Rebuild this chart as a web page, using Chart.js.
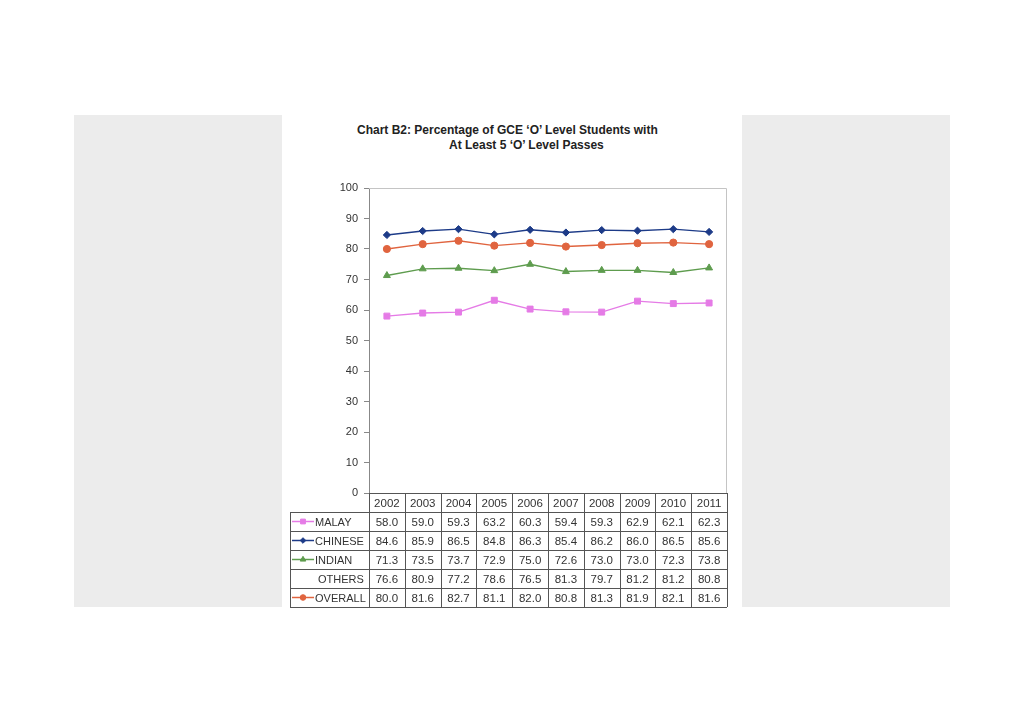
<!DOCTYPE html>
<html>
<head>
<meta charset="utf-8">
<script src="https://cdn.jsdelivr.net/npm/chart.js@4"></script>
<style>
  html, body { margin: 0; padding: 0; background: #fff; }
  body { width: 1024px; height: 724px; position: relative; overflow: hidden; font-family: "Liberation Sans", Arial, sans-serif; }
  .panel { position: absolute; top: 115px; height: 492px; width: 208px; background: #ececec; }
  .title { position: absolute; font-weight: bold; font-size: 12px; color: #222; white-space: nowrap; }
  #wrap { position: absolute; left: 282px; top: 170px; width: 460px; height: 450px; }
</style>
</head>
<body>
<div class="panel" style="left:74px"></div>
<div class="panel" style="left:742px"></div>
<div class="title" style="left:357px; top:123px">Chart B2: Percentage of GCE ‘O’ Level Students with</div>
<div class="title" style="left:449px; top:138px">At Least 5 ‘O’ Level Passes</div>
<div id="wrap"><canvas id="chart"></canvas></div>
<script>
// Data
const years = ['2002', '2003', '2004', '2005', '2006', '2007', '2008', '2009', '2010', '2011'];
const malay = [58.0, 59.0, 59.3, 63.2, 60.3, 59.4, 59.3, 62.9, 62.1, 62.3];
const chinese = [84.6, 85.9, 86.5, 84.8, 86.3, 85.4, 86.2, 86.0, 86.5, 85.6];
const indian = [71.3, 73.5, 73.7, 72.9, 75.0, 72.6, 73.0, 73.0, 72.3, 73.8];
const others = [76.6, 80.9, 77.2, 78.6, 76.5, 81.3, 79.7, 81.2, 81.2, 80.8];
const overall = [80.0, 81.6, 82.7, 81.1, 82.0, 80.8, 81.3, 81.9, 82.1, 81.6];

const FONT = '"Liberation Sans", Arial, sans-serif';

// Series styles (OTHERS is only shown in the table)
const series = [
  { label: 'MALAY', data: malay, color: '#e57be6', style: 'rect', radius: 4.2, hidden: false },
  { label: 'CHINESE', data: chinese, color: '#1d3b88', style: 'rectRot', radius: 3.6, hidden: false },
  { label: 'INDIAN', data: indian, color: '#5e9c4e', style: 'triangle', radius: 4, hidden: false },
  { label: 'OTHERS', data: others, color: '#888', style: false, radius: 0, hidden: true },
  { label: 'OVERALL', data: overall, color: '#e0643f', style: 'circle', radius: 3.6, hidden: false }
];

// Data table drawn under the plot, columns from the x scale
const dataTable = {
  id: 'dataTable',
  afterDraw(chart) {
    const ctx = chart.ctx;
    const area = chart.chartArea;
    const x = chart.scales.x;
    const colW = (area.right - area.left) / years.length;
    const rowH = 19;
    const labelLeft = 8;
    const top = area.bottom;
    const bottom = top + rowH * (series.length + 1);

    ctx.save();

    // plot frame
    ctx.strokeStyle = '#c4c4c4';
    ctx.lineWidth = 1;
    ctx.beginPath();
    ctx.moveTo(area.left, area.top + 0.5);
    ctx.lineTo(area.right - 0.5, area.top + 0.5);
    ctx.lineTo(area.right - 0.5, area.bottom);
    ctx.stroke();

    // table grid
    ctx.strokeStyle = '#555';
    ctx.beginPath();
    for (let i = 0; i <= years.length; i++) {
      const cx = Math.round(area.left + i * colW) + 0.5;
      ctx.moveTo(cx, top);
      ctx.lineTo(cx, bottom);
    }
    ctx.moveTo(area.left, top + 0.5);
    ctx.lineTo(area.right, top + 0.5);
    for (let r = 1; r <= series.length + 1; r++) {
      const ry = Math.round(top + r * rowH) + 0.5;
      ctx.moveTo(labelLeft, ry);
      ctx.lineTo(area.right, ry);
    }
    ctx.moveTo(labelLeft + 0.5, top + rowH);
    ctx.lineTo(labelLeft + 0.5, bottom);
    ctx.stroke();

    // texts
    ctx.fillStyle = '#333';
    ctx.font = '11.5px ' + FONT;
    ctx.textAlign = 'center';
    ctx.textBaseline = 'middle';
    years.forEach((yr, i) => {
      ctx.fillText(yr, x.getPixelForValue(i), top + rowH / 2 + 1);
    });
    series.forEach((s, r) => {
      const cy = top + (r + 1.5) * rowH + 1;
      ctx.font = '11.5px ' + FONT;
      ctx.textAlign = 'center';
      s.data.forEach((v, i) => {
        ctx.fillText(v.toFixed(1), x.getPixelForValue(i), cy);
      });
      // legend key
      if (s.style) {
        ctx.strokeStyle = s.color;
        ctx.lineWidth = 1.5;
        ctx.beginPath();
        ctx.moveTo(labelLeft + 2, cy - 1);
        ctx.lineTo(labelLeft + 24, cy - 1);
        ctx.stroke();
        ctx.fillStyle = s.color;
        ctx.lineWidth = 1;
        Chart.helpers.drawPoint(ctx, { pointStyle: s.style, radius: s.radius - 0.8, borderWidth: 1 }, labelLeft + 13, cy - 1);
      }
      ctx.fillStyle = '#333';
      ctx.font = '11px ' + FONT;
      ctx.textAlign = 'left';
      ctx.fillText(s.label, labelLeft + 25 + (s.style ? 0 : 3), cy);
    });

    ctx.restore();
  }
};

new Chart(document.getElementById('chart'), {
  type: 'line',
  data: {
    labels: years,
    datasets: series.map(s => ({
      label: s.label,
      data: s.data,
      hidden: s.hidden,
      borderColor: s.color,
      backgroundColor: s.color,
      borderWidth: 1.4,
      pointStyle: s.style || 'circle',
      pointRadius: s.radius,
      pointBorderWidth: 1,
      pointHoverRadius: s.radius,
      tension: 0
    }))
  },
  options: {
    responsive: true,
    maintainAspectRatio: false,
    animation: false,
    layout: { padding: { left: 0, top: 18, right: 15, bottom: 127 } },
    plugins: {
      legend: { display: false },
      title: { display: false },
      tooltip: { enabled: false }
    },
    scales: {
      x: {
        display: false,
        offset: true
      },
      y: {
        min: 0,
        max: 100,
        afterFit(scale) { scale.width = 87; },
        ticks: {
          stepSize: 10,
          padding: 6,
          color: '#333',
          font: { family: FONT, size: 11 }
        },
        grid: {
          drawOnChartArea: false,
          drawTicks: true,
          tickLength: 5,
          color: '#888'
        },
        border: { display: true, color: '#888', width: 1 }
      }
    }
  },
  plugins: [dataTable]
});
</script>
</body>
</html>
